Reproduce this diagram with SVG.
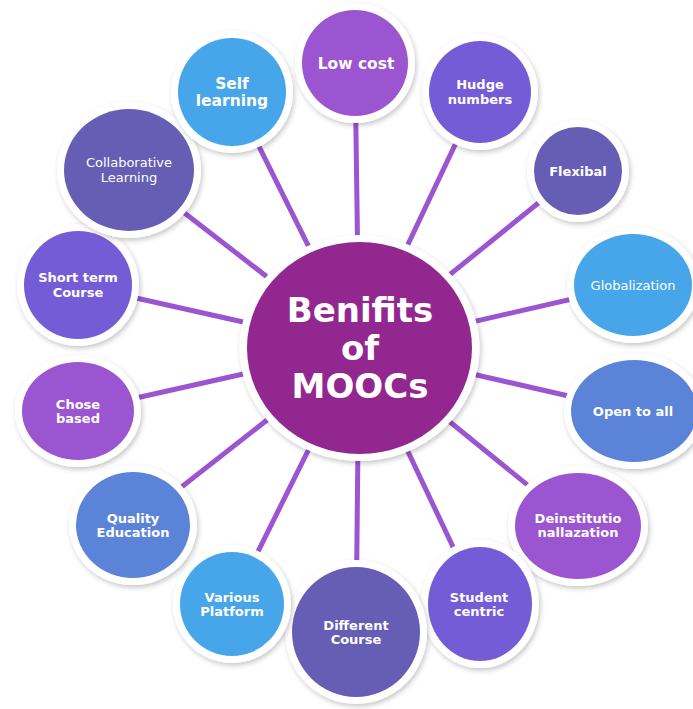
<svg xmlns="http://www.w3.org/2000/svg" width="693" height="709" viewBox="0 0 693 709">
<defs>
<filter id="sh" x="-20%" y="-20%" width="140%" height="140%">
<feDropShadow dx="1.5" dy="2.5" stdDeviation="2.5" flood-color="#000" flood-opacity="0.22"/>
</filter>
<style>
.ring{fill:#fff;filter:url(#sh)}
.c1{fill:#9B55D0}.c2{fill:#745CD6}.c3{fill:#665EB5}.c4{fill:#47A6EA}.c5{fill:#5B84D9}
.t{fill:#fff;font-family:"DejaVu Sans","Verdana",sans-serif;font-weight:bold;font-size:13px;text-anchor:middle}
.n{font-weight:normal}
.big{font-size:15.5px}
.ctr{font-size:34px}
.con line{stroke:#9B55D0;stroke-width:5}
</style>
</defs>
<rect width="693" height="709" fill="#fff"/>
<g id="connectors" class="con">
<line x1="359" y1="348" x2="355" y2="63"/>
<line x1="359" y1="348" x2="480" y2="92"/>
<line x1="359" y1="348" x2="578" y2="171"/>
<line x1="359" y1="348" x2="633" y2="285"/>
<line x1="359" y1="348" x2="634" y2="411"/>
<line x1="359" y1="348" x2="578" y2="526"/>
<line x1="359" y1="348" x2="480" y2="604"/>
<line x1="359" y1="348" x2="356" y2="632"/>
<line x1="359" y1="348" x2="232" y2="604"/>
<line x1="359" y1="348" x2="133" y2="525"/>
<line x1="359" y1="348" x2="78" y2="411"/>
<line x1="359" y1="348" x2="78" y2="285"/>
<line x1="359" y1="348" x2="129" y2="170"/>
<line x1="359" y1="348" x2="232" y2="92"/>
</g>
<g id="center">
<ellipse class="ring" cx="359.5" cy="348" rx="120" ry="113"/>
<ellipse cx="359.5" cy="348" rx="112.5" ry="106" fill="#92278F"/>
<text class="t ctr" x="360" y="322">Benifits</text>
<text class="t ctr" x="360" y="360">of</text>
<text class="t ctr" x="360" y="398">MOOCs</text>
</g>
<g id="low-cost">
<ellipse class="ring" cx="355" cy="63" rx="60" ry="60"/>
<ellipse class="c1" cx="355" cy="63" rx="53" ry="53"/>
<text class="t big" x="356" y="69">Low cost</text>
</g>
<g id="hudge-numbers">
<ellipse class="ring" cx="480" cy="92" rx="58" ry="58"/>
<ellipse class="c2" cx="480" cy="92" rx="51" ry="51"/>
<text class="t" x="480" y="89">Hudge</text>
<text class="t" x="480" y="104">numbers</text>
</g>
<g id="flexibal">
<ellipse class="ring" cx="578" cy="171" rx="51" ry="51"/>
<ellipse class="c3" cx="578" cy="171" rx="44" ry="44"/>
<text class="t" x="578" y="176">Flexibal</text>
</g>
<g id="globalization">
<ellipse class="ring" cx="633" cy="285" rx="66" ry="58"/>
<ellipse class="c4" cx="633" cy="285" rx="59" ry="51"/>
<text class="t n" x="633" y="290">Globalization</text>
</g>
<g id="open-to-all">
<ellipse class="ring" cx="634" cy="411" rx="70" ry="58"/>
<ellipse class="c5" cx="634" cy="411" rx="63" ry="51"/>
<text class="t" x="633" y="416">Open to all</text>
</g>
<g id="deinstitutionallazation">
<ellipse class="ring" cx="578" cy="526" rx="70" ry="60"/>
<ellipse class="c1" cx="578" cy="526" rx="63" ry="53"/>
<text class="t" x="578" y="523">Deinstitutio</text>
<text class="t" x="578" y="537">nallazation</text>
</g>
<g id="student-centric">
<ellipse class="ring" cx="480" cy="604" rx="59" ry="64"/>
<ellipse class="c2" cx="480" cy="604" rx="52" ry="57"/>
<text class="t" x="479" y="602">Student</text>
<text class="t" x="479" y="616">centric</text>
</g>
<g id="different-course">
<ellipse class="ring" cx="356" cy="632" rx="71" ry="72"/>
<ellipse class="c3" cx="356" cy="632" rx="64" ry="65"/>
<text class="t" x="356" y="630">Different</text>
<text class="t" x="356" y="644">Course</text>
</g>
<g id="various-platform">
<ellipse class="ring" cx="232" cy="604" rx="59" ry="59"/>
<ellipse class="c4" cx="232" cy="604" rx="52" ry="52"/>
<text class="t" x="232" y="602">Various</text>
<text class="t" x="232" y="616">Platform</text>
</g>
<g id="quality-education">
<ellipse class="ring" cx="133" cy="525" rx="64" ry="60"/>
<ellipse class="c5" cx="133" cy="525" rx="57" ry="53"/>
<text class="t" x="133" y="523">Quality</text>
<text class="t" x="133" y="537">Education</text>
</g>
<g id="chose-based">
<ellipse class="ring" cx="78" cy="411" rx="63" ry="56"/>
<ellipse class="c1" cx="78" cy="411" rx="56" ry="49"/>
<text class="t" x="78" y="409">Chose</text>
<text class="t" x="78" y="423">based</text>
</g>
<g id="short-term-course">
<ellipse class="ring" cx="78" cy="285" rx="61" ry="61"/>
<ellipse class="c2" cx="78" cy="285" rx="54" ry="54"/>
<text class="t" x="78" y="282">Short term</text>
<text class="t" x="78" y="297">Course</text>
</g>
<g id="collaborative-learning">
<ellipse class="ring" cx="129" cy="170" rx="72" ry="68"/>
<ellipse class="c3" cx="129" cy="170" rx="65" ry="61"/>
<text class="t n" x="129" y="167">Collaborative</text>
<text class="t n" x="129" y="182">Learning</text>
</g>
<g id="self-learning">
<ellipse class="ring" cx="232" cy="92" rx="61" ry="61"/>
<ellipse class="c4" cx="232" cy="92" rx="54" ry="54"/>
<text class="t big" x="232" y="89">Self</text>
<text class="t big" x="232" y="106">learning</text>
</g>
</svg>
